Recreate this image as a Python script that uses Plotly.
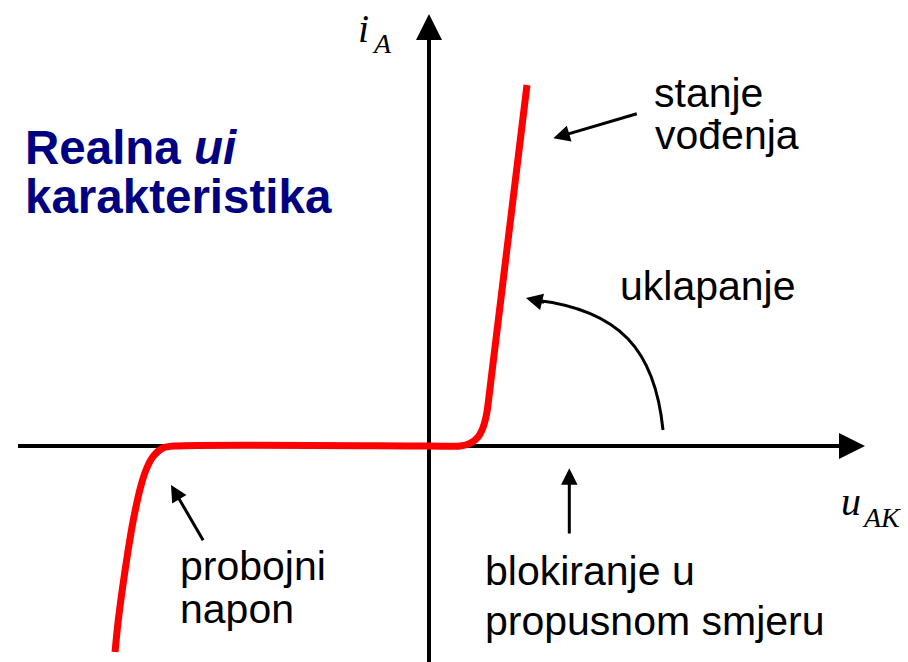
import plotly.graph_objects as go

# Diode ui characteristic: anode voltage u_AK vs anode current i_A (arbitrary units)
u_vals = [-314, -310.7, -306.3, -301.3, -295.7, -288.3, -283, -276, -266, -254,
          0, 31, 41, 49.3, 54.3, 57.7, 60, 62, 98]
i_vals = [-206, -174, -140.7, -107, -74, -40.7, -24, -10.7, -2, 0,
          0, 0, 2.7, 9.3, 19.3, 32.7, 49.3, 66, 361]

# Axis extents
U_MIN, U_MAX = -429, 479
I_MIN, I_MAX = -216, 446

SANS = "Liberation Sans, Arial, sans-serif"
SERIF = "Liberation Serif, Times New Roman, serif"

fig = go.Figure()

fig.add_trace(go.Scatter(
    x=u_vals, y=i_vals, mode="lines",
    line=dict(color="#ff0000", width=7, shape="spline", smoothing=0.8),
    hoverinfo="skip",
))

shapes = [
    # coordinate axes
    dict(type="line", x0=0, y0=I_MIN, x1=0, y1=406, line=dict(color="black", width=4)),
    dict(type="line", x0=-411, y0=0, x1=410, y1=0, line=dict(color="black", width=4)),
    dict(type="path", path="M-13,406 L0,432 L13,406 Z", fillcolor="black", line=dict(width=0)),
    dict(type="path", path="M410,13 L436,0 L410,-13 Z", fillcolor="black", line=dict(width=0)),
    # curved pointer for "uklapanje"
    dict(type="path", path="M234,16 C226,96 191,136 106,146",
         line=dict(color="black", width=3)),
]
for s in shapes:
    s.update(xref="x", yref="y", layer="below" if s["type"] == "line" else "above")
fig.update_layout(shapes=shapes)


def label(text, u, i, size=41, family=SANS, color="black"):
    fig.add_annotation(x=u, y=i, xref="x", yref="y", text=text, showarrow=False,
                       xanchor="left", yanchor="middle", borderpad=0,
                       font=dict(family=family, size=size, color=color))


def pointer(u_tip, i_tip, u_tail, i_tail):
    fig.add_annotation(x=u_tip, y=i_tip, ax=u_tail, ay=i_tail, xref="x", yref="y",
                       axref="x", ayref="y", text="", showarrow=True,
                       arrowhead=2, arrowsize=1.1, arrowwidth=3, arrowcolor="black")


label("<b>Realna <i>ui</i></b>", -405, 298.5, size=47.5, color="#000080")
label("<b>karakteristika</b>", -405, 249.5, size=47.5, color="#000080")

label("stanje", 224, 353.5)
label("vođenja", 225, 311.5)
label("uklapanje", 190, 160.5)
label("probojni", -250, -119.5)
label("napon", -250, -162.8)
label("blokiranje u", 55, -124.5)
label("propusnom smjeru", 55, -174.5)

label("<i>i</i>", -72, 417.8, size=40, family=SERIF)
label("<i>A</i>", -58, 402.5, size=28, family=SERIF)
label("<i>u</i>", 411, -55.5, size=40, family=SERIF)
label("<i>AK</i>", 432, -71.5, size=28, family=SERIF)

pointer(124.3, 307.7, 209.3, 332.7)
pointer(-258, -39, -225, -95.7)
pointer(140.3, -22.3, 140.3, -89)
pointer(97, 148, 116.5, 143.3)

fig.update_layout(
    width=908, height=662, autosize=False,
    margin=dict(l=0, r=0, t=0, b=0),
    paper_bgcolor="white", plot_bgcolor="white",
    showlegend=False,
    xaxis=dict(range=[U_MIN, U_MAX], visible=False, fixedrange=True),
    yaxis=dict(range=[I_MIN, I_MAX], visible=False, fixedrange=True),
)

fig.write_html("out.html")
